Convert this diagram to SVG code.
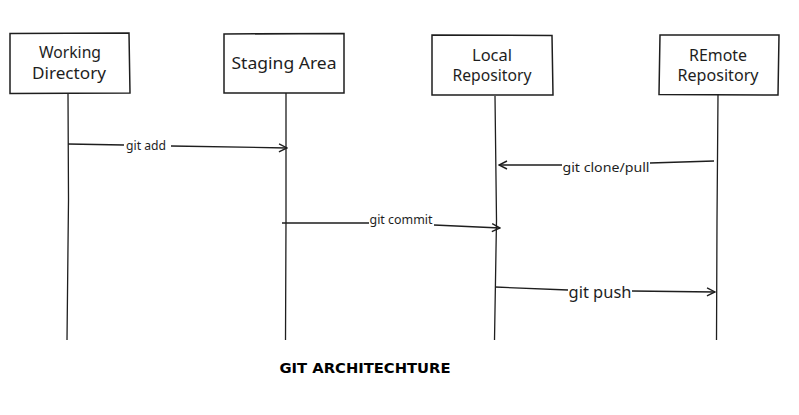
<svg xmlns="http://www.w3.org/2000/svg" width="799" height="415" viewBox="0 0 799 415">
<style>
.box{fill:#fff;stroke:#1e1e1e;stroke-width:1.5}
.life{fill:none;stroke:#1e1e1e;stroke-width:1.3}
.lbl{font-family:"Noto Sans","DejaVu Sans",sans-serif;font-size:16px;fill:#1e1e1e;text-anchor:middle}
.al{font-family:"Noto Sans","DejaVu Sans",sans-serif;font-size:12.5px;fill:#1e1e1e;text-anchor:middle}
.conn{fill:none;stroke:#1e1e1e;stroke-width:1.3}
.title{font-family:"DejaVu Sans",sans-serif;font-weight:bold;font-size:14.5px;fill:#000;text-anchor:middle}
</style>
<defs>
<marker id="ah" viewBox="0 0 10 10" refX="9" refY="5" markerWidth="10" markerHeight="10" markerUnits="userSpaceOnUse" orient="auto">
<path d="M1,1 L9,5 L1,9" fill="none" stroke="#1e1e1e" stroke-width="1.4"/>
</marker>
</defs>
<g id="lifelines">
<path class="life" d="M68,93 L68.5,200 L67,340"/>
<path class="life" d="M286,93 L286,220 L285.5,340"/>
<path class="life" d="M495,96 L496.5,220 L494.5,340"/>
<path class="life" d="M718,95 L717,220 L716.5,340"/>
</g>
<g id="n1"><path class="box" d="M10,33.5 L129,33 L130,93 L10,93.5 Z"/><text class="lbl" x="70" y="58" textLength="62" lengthAdjust="spacingAndGlyphs">Working</text><text class="lbl" x="69" y="79" textLength="74" lengthAdjust="spacingAndGlyphs">Directory</text></g>
<g id="n2"><path class="box" d="M224,34 L344,33.5 L344,93 L224,93 Z"/><text class="lbl" x="284" y="69" textLength="105" lengthAdjust="spacingAndGlyphs">Staging Area</text></g>
<g id="n3"><path class="box" d="M432,35 L552,35.5 L553,95 L432,95 Z"/><text class="lbl" x="492" y="61" textLength="40" lengthAdjust="spacingAndGlyphs">Local</text><text class="lbl" x="492" y="81" textLength="79" lengthAdjust="spacingAndGlyphs">Repository</text></g>
<g id="n4"><path class="box" d="M660,35 L779,35 L778,95 L659,94.5 Z"/><text class="lbl" x="718" y="61" textLength="58" lengthAdjust="spacingAndGlyphs">REmote</text><text class="lbl" x="718" y="81" textLength="81" lengthAdjust="spacingAndGlyphs">Repository</text></g>
<g id="connectors">
<path class="conn" d="M68,144 L124,145 M171,146 L287,148" marker-end="url(#ah)"/>
<text class="al" x="146" y="150" textLength="40" lengthAdjust="spacingAndGlyphs">git add</text>
<path class="conn" d="M714,161 L650,163 M562,165 L499,165" marker-end="url(#ah)"/>
<text class="al" x="606" y="172" textLength="87" lengthAdjust="spacingAndGlyphs">git clone/pull</text>
<path class="conn" d="M282,223 L369,223 M434,225 L500,228" marker-end="url(#ah)"/>
<text class="al" x="401" y="224" textLength="63" lengthAdjust="spacingAndGlyphs">git commit</text>
<path class="conn" d="M495,287 L568,290 M632,291 L715,292" marker-end="url(#ah)"/>
<text class="lbl" x="600" y="298" textLength="63" lengthAdjust="spacingAndGlyphs">git push</text>
</g>
<text class="title" x="365" y="373" textLength="171" lengthAdjust="spacingAndGlyphs">GIT ARCHITECHTURE</text>
</svg>
